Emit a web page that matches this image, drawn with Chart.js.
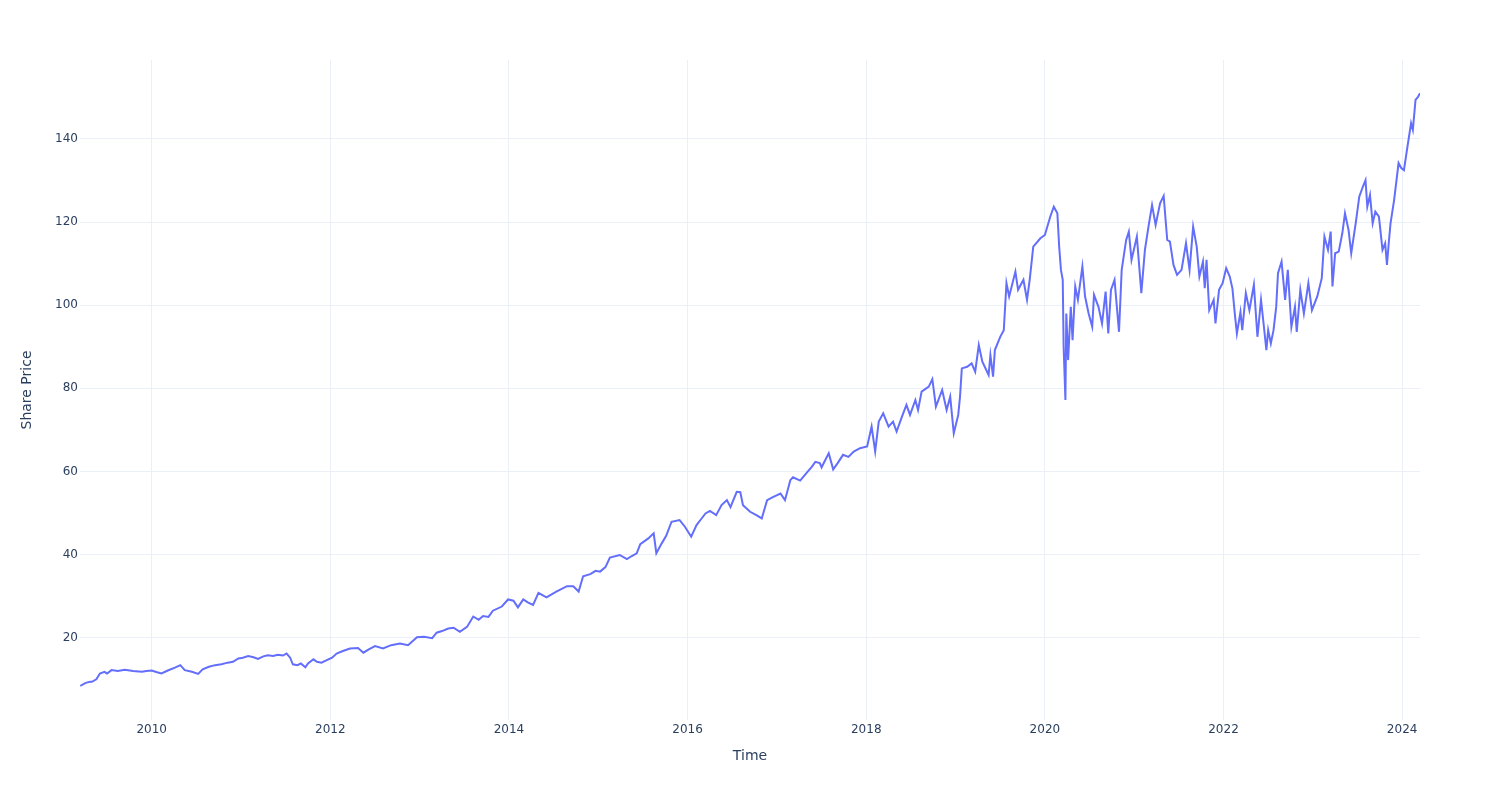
<!DOCTYPE html>
<html>
<head>
<meta charset="utf-8">
<title>Share Price</title>
<script src="https://cdn.jsdelivr.net/npm/chart.js@4.4.1/dist/chart.umd.min.js"></script>
<style>
  html, body { margin: 0; padding: 0; background: #fff; }
  #wrap { width: 1500px; height: 800px; }
</style>
</head>
<body>
<div id="wrap"><canvas id="chart" width="1500" height="800"></canvas></div>
<script>
// Dates as decimal years, prices
const years = [
  2009.20, 2009.25, 2009.27, 2009.31, 2009.33, 2009.38, 2009.42, 2009.47, 2009.50, 2009.55, 2009.62, 2009.70, 2009.79, 2009.89, 2009.94,
  2010.00, 2010.06, 2010.11, 2010.18, 2010.26, 2010.32, 2010.37, 2010.45, 2010.52, 2010.57, 2010.64, 2010.71, 2010.78, 2010.85, 2010.91, 2010.97,
  2011.02, 2011.08, 2011.14, 2011.19, 2011.25, 2011.30, 2011.36, 2011.41, 2011.47, 2011.51, 2011.55, 2011.58, 2011.63, 2011.67, 2011.72, 2011.75, 2011.81, 2011.85, 2011.90, 2011.96,
  2012.02, 2012.07, 2012.14, 2012.22, 2012.31, 2012.37, 2012.43, 2012.50, 2012.59, 2012.68, 2012.78, 2012.87, 2012.97,
  2013.05, 2013.14, 2013.19, 2013.25, 2013.32, 2013.38, 2013.45, 2013.53, 2013.60, 2013.66, 2013.71, 2013.77, 2013.82, 2013.92, 2013.99,
  2014.05, 2014.10, 2014.16, 2014.21, 2014.27, 2014.33, 2014.42, 2014.53, 2014.65, 2014.72, 2014.78, 2014.83, 2014.91, 2014.97,
  2015.02, 2015.08, 2015.13, 2015.24, 2015.32, 2015.37, 2015.43, 2015.47, 2015.56, 2015.62, 2015.65, 2015.71, 2015.76, 2015.82, 2015.91, 2015.97,
  2016.04, 2016.10, 2016.15, 2016.20, 2016.25, 2016.32, 2016.38, 2016.44, 2016.48, 2016.55, 2016.59, 2016.62, 2016.70, 2016.77, 2016.83, 2016.89, 2016.96,
  2017.04, 2017.09, 2017.15, 2017.18, 2017.26, 2017.33, 2017.39, 2017.43, 2017.48, 2017.50, 2017.58, 2017.63, 2017.68, 2017.74, 2017.80, 2017.86, 2017.93,
  2018.01, 2018.06, 2018.10, 2018.14, 2018.19, 2018.25, 2018.30, 2018.34, 2018.40, 2018.45, 2018.49, 2018.55, 2018.58, 2018.62, 2018.70, 2018.74, 2018.78, 2018.85, 2018.90, 2018.94, 2018.98,
  2019.03, 2019.05, 2019.07, 2019.13, 2019.18, 2019.22, 2019.26, 2019.30, 2019.37, 2019.39, 2019.42, 2019.44, 2019.50, 2019.54, 2019.57, 2019.60, 2019.67, 2019.70, 2019.76, 2019.80, 2019.83, 2019.87, 2019.95,
  2020.00, 2020.06, 2020.10, 2020.14, 2020.16, 2020.18, 2020.20, 2020.21, 2020.23, 2020.24, 2020.26, 2020.29, 2020.31, 2020.34, 2020.37, 2020.42, 2020.45, 2020.49, 2020.53, 2020.55, 2020.60, 2020.64, 2020.68, 2020.71, 2020.74, 2020.78, 2020.83, 2020.86, 2020.91, 2020.94, 2020.97,
  2021.03, 2021.08, 2021.12, 2021.16, 2021.20, 2021.24, 2021.29, 2021.33, 2021.37, 2021.40, 2021.44, 2021.48, 2021.53, 2021.58, 2021.62, 2021.66, 2021.70, 2021.73, 2021.77, 2021.79, 2021.81, 2021.84, 2021.89, 2021.91, 2021.95, 2021.99,
  2022.03, 2022.07, 2022.10, 2022.13, 2022.15, 2022.19, 2022.21, 2022.25, 2022.29, 2022.34, 2022.38, 2022.42, 2022.45, 2022.48, 2022.50, 2022.53, 2022.56, 2022.59, 2022.61, 2022.65, 2022.69, 2022.72, 2022.76, 2022.80, 2022.82, 2022.86, 2022.90, 2022.95, 2022.99,
  2023.05, 2023.10, 2023.13, 2023.17, 2023.20, 2023.22, 2023.25, 2023.29, 2023.33, 2023.36, 2023.40, 2023.43, 2023.48, 2023.52, 2023.56, 2023.59, 2023.61, 2023.64, 2023.67, 2023.70, 2023.74, 2023.78, 2023.81, 2023.83, 2023.85, 2023.87, 2023.91, 2023.96, 2023.99,
  2024.02, 2024.06, 2024.10, 2024.12, 2024.15, 2024.18, 2024.20
];
const price = [
  8.4, 9.0, 9.2, 9.4, 9.4, 10.0, 11.4, 11.8, 11.4, 12.2, 12.0, 12.3, 12.0, 11.8, 12.0,
  12.1, 11.7, 11.4, 12.1, 12.8, 13.4, 12.2, 11.8, 11.3, 12.4, 13.0, 13.4, 13.6, 14.0, 14.2, 15.0,
  15.2, 15.6, 15.3, 14.9, 15.5, 15.8, 15.6, 15.9, 15.7, 16.2, 15.2, 13.6, 13.4, 13.8, 12.9, 13.8, 14.8, 14.2, 14.0, 14.6,
  15.2, 16.2, 16.8, 17.4, 17.5, 16.4, 17.2, 18.0, 17.4, 18.2, 18.6, 18.2, 20.1,
  20.2, 19.9, 21.2, 21.6, 22.2, 22.4, 21.4, 22.6, 25.1, 24.3, 25.2, 25.0, 26.5, 27.5, 29.2,
  28.9, 27.3, 29.2, 28.5, 27.9, 30.8, 29.7, 31.1, 32.4, 32.4, 31.1, 34.8, 35.3, 36.1,
  35.9, 37.0, 39.3, 39.9, 38.9, 39.6, 40.3, 42.5, 43.9, 45.1, 40.3, 42.7, 44.5, 47.9, 48.3, 46.7,
  44.3, 47.1, 48.5, 49.9, 50.5, 49.5, 51.9, 53.1, 51.4, 55.1, 55.0, 51.9, 50.3, 49.5, 48.7, 53.1, 53.9,
  54.7, 53.1, 57.9, 58.6, 57.8, 59.6, 61.1, 62.3, 62.0, 61.0, 64.4, 60.5, 62.0, 64.0, 63.5, 64.8, 65.6,
  66.0, 70.8, 64.8, 72.0, 74.0, 70.8, 72.0, 69.6, 73.2, 76.0, 73.6, 77.2, 74.8, 79.2, 80.4, 82.2, 75.6, 79.6, 74.8, 78.0, 69.2,
  73.6, 78.0, 84.8, 85.2, 86.0, 84.0, 90.4, 86.4, 83.2, 88.0, 82.8, 89.2, 92.4, 94.0, 105.3, 102.1, 108.1, 103.7, 106.1, 101.3, 106.1, 114.1, 116.1,
  116.9, 121.3, 123.7, 122.1, 114.1, 108.5, 106.1, 90.0, 77.2, 98.0, 86.8, 99.6, 91.6, 104.5, 101.3, 109.3, 102.1, 98.0, 94.8, 102.5, 99.6, 95.6, 103.3, 93.2, 103.7, 106.1, 93.6, 108.5, 115.7, 117.7, 110.9,
  116.5, 102.9, 113.3, 118.9, 124.1, 119.3, 124.5, 126.3, 115.7, 115.3, 109.7, 107.3, 108.5, 114.9, 108.5, 118.9, 114.1, 106.9, 110.5, 104.1, 110.9, 98.8, 101.3, 95.6, 103.7, 105.3,
  108.9, 106.9, 104.0, 97.2, 93.2, 98.4, 94.0, 102.9, 98.8, 104.9, 92.4, 101.3, 95.3, 89.2, 94.0, 90.8, 94.0, 99.6, 107.7, 110.5, 101.3, 108.5, 94.8, 99.6, 93.6, 103.7, 98.0, 105.3, 98.8,
  102.1, 106.5, 116.5, 113.3, 117.7, 104.5, 112.5, 112.9, 117.3, 122.1, 118.1, 112.5, 119.7, 126.1, 128.5, 130.1, 123.7, 126.5, 119.7, 122.5, 121.3, 113.3, 114.9, 109.7, 114.9, 119.7, 125.3, 134.2, 133.0,
  132.5, 138.2, 143.8, 142.2, 149.4, 150.2, 151.0
];
const yearTicks = [2010, 2012, 2014, 2016, 2018, 2020, 2022, 2024];
const priceTicks = [20, 40, 60, 80, 100, 120, 140];

const textColor = '#2a3f5f';
const gridColor = '#ebf0f8';
const fontFamily = '"DejaVu Sans", Verdana, sans-serif';

const points = years.map((t, i) => ({ x: t, y: price[i] }));

new Chart(document.getElementById('chart'), {
  type: 'line',
  data: {
    datasets: [{
      label: 'Share Price',
      data: points,
      borderColor: '#636efa',
      backgroundColor: '#636efa',
      borderWidth: 2,
      pointRadius: 0,
      tension: 0,
      fill: false
    }]
  },
  options: {
    responsive: false,
    animation: false,
    devicePixelRatio: 1,
    layout: { padding: { top: 60, right: 80, left: 0, bottom: 0 } },
    plugins: {
      legend: { display: false },
      tooltip: { enabled: false }
    },
    scales: {
      x: {
        type: 'linear',
        min: 2009.197,
        max: 2024.20,
        afterFit: s => { s.height = 80; },
        afterBuildTicks: s => { s.ticks = yearTicks.map(v => ({ value: v })); },
        border: { display: false },
        grid: { color: gridColor, lineWidth: 1, drawTicks: false },
        ticks: {
          color: textColor,
          padding: 3,
          maxRotation: 0,
          font: { family: fontFamily, size: 12 },
          callback: v => String(v)
        },
        title: {
          display: true,
          text: 'Time',
          color: textColor,
          font: { family: fontFamily, size: 14 },
          padding: { top: 0, bottom: 35 }
        }
      },
      y: {
        type: 'linear',
        min: 0.2,
        max: 159,
        afterFit: s => { s.width = 80; },
        afterBuildTicks: s => { s.ticks = priceTicks.map(v => ({ value: v })); },
        border: { display: false },
        grid: { color: gridColor, lineWidth: 1, drawTicks: false },
        ticks: {
          color: textColor,
          padding: 2,
          font: { family: fontFamily, size: 12 },
          callback: v => String(v)
        },
        title: {
          display: true,
          text: 'Share Price',
          color: textColor,
          font: { family: fontFamily, size: 14 },
          padding: { top: 19, bottom: 0 }
        }
      }
    }
  }
});
</script>
</body>
</html>
